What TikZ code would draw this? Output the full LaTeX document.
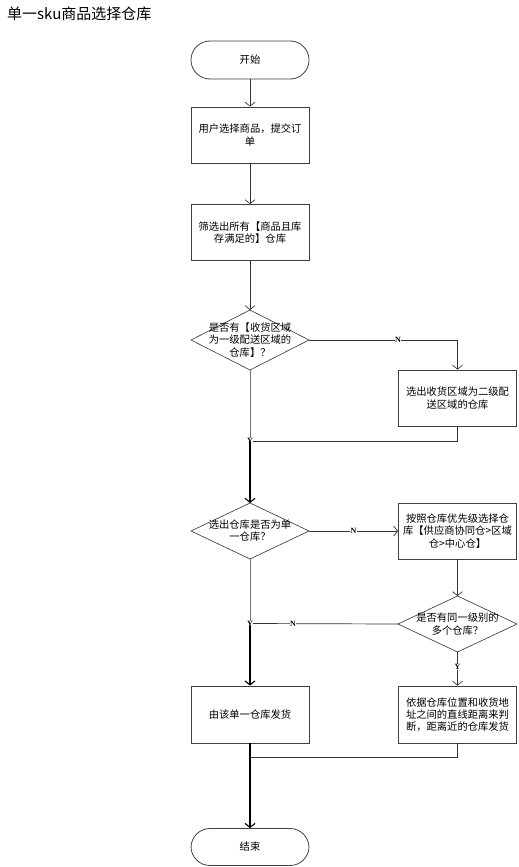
\documentclass[tikz,border=0pt]{standalone}
\usepackage{fontspec}
\setmainfont{Liberation Serif}
\newfontfamily\cjk{Noto Sans CJK SC}
\usetikzlibrary{arrows.meta,shapes.geometric}
\tikzset{
  x=1pt,y=-1pt,
  every node/.style={font=\cjk\fontsize{10.3}{12.2}\selectfont,text=black,align=center,inner sep=0pt},
  procbox/.style={draw=black!75,line width=0.8pt,minimum width=118pt,minimum height=56pt},
  term/.style={draw=black!75,line width=0.8pt,rounded corners=19pt,minimum width=118pt,minimum height=38pt},
  dec/.style={draw=black!80,line width=0.6pt,diamond,aspect=2,minimum width=118pt,minimum height=60pt,inner sep=0pt,outer sep=0pt},
  conn/.style={draw=black!80,line width=0.7pt},
  arr/.style={conn,-{Straight Barb[length=4pt,width=10pt]}},
  lbl/.style={font=\fontsize{8}{8}\selectfont\bfseries,fill=white,inner sep=0.3pt}
}
\begin{document}
\begin{tikzpicture}
\useasboundingbox (0,0) rectangle (519,867);
\node[anchor=west,font=\cjk\fontsize{15}{17}\selectfont] (title) at (7,14) {单一sku商品选择仓库};
\node[term] (start) at (250,60) {开始};
\node[procbox] (b1) at (250,135) {用户选择商品，提交订\\单};
\node[procbox] (b2) at (250,232.5) {筛选出所有【商品且库\\存满足的】仓库};
\node[dec,minimum height=60pt] (d1) at (250,340) {};
\node (t1) at (250,340) {是否有【收货区域\\为一级配送区域的\\仓库】？};
\node[procbox] (b3) at (457.5,398) {选出收货区域为二级配\\送区域的仓库};
\node[dec,minimum height=56pt] (d2) at (250,531) {};
\node (t2) at (250,531) {选出仓库是否为单\\一仓库？};
\node[procbox] (b4) at (457.5,531) {按照仓库优先级选择仓\\库【供应商协同仓>区域\\仓>中心仓】};
\node[dec,minimum height=56pt,minimum width=119pt] (d3) at (457.5,624) {};
\node (t3) at (457.5,624) {是否有同一级别的\\多个仓库？};
\node[procbox,minimum height=57pt] (b5) at (250,714.5) {由该单一仓库发货};
\node[procbox,minimum height=57pt] (b6) at (457.5,714.5) {依据仓库位置和收货地\\址之间的直线距离来判\\断，距离近的仓库发货};
\node[term,minimum height=37pt] (end) at (250,847) {结束};
\coordinate (j1) at (250,441);
\coordinate (j2) at (250,623.5);
\coordinate (j3) at (250,757);
\draw[arr] (start) -- (b1);
\draw[arr] (b1) -- (b2);
\draw[arr] (b2) -- (d1);
\draw[arr] (d1.east) -| (b3.north) node[lbl,pos=0.3] (n1) {N};
\draw[conn,draw=black!55] (d1.south) -- (j1);
\draw[conn] (b3.south) |- (j1) node[lbl,pos=1] (y1) {Y};
\draw[arr,line width=1.1pt,draw=black] (j1) -- (d2.north);
\draw[arr] (d2.east) -- (b4.west) node[lbl,midway] (n2) {N};
\draw[arr] (b4.south) -- (d3.north);
\draw[conn] (d3.west) -- (j2) node[lbl,pos=0.71] (n3) {N};
\draw[conn,draw=black!55] (d2.south) -- (j2);
\draw[arr,line width=1.1pt,draw=black] (j2) -- (b5.north) node[lbl,pos=0] (y2) {Y};
\draw[arr] (d3.south) -- (b6.north) node[lbl,pos=0.44] (y3) {Y};
\draw[conn] (b6.south) |- (j3);
\draw[arr,line width=1.1pt,draw=black] (b5.south) -- (end.north);
\end{tikzpicture}
\end{document}
